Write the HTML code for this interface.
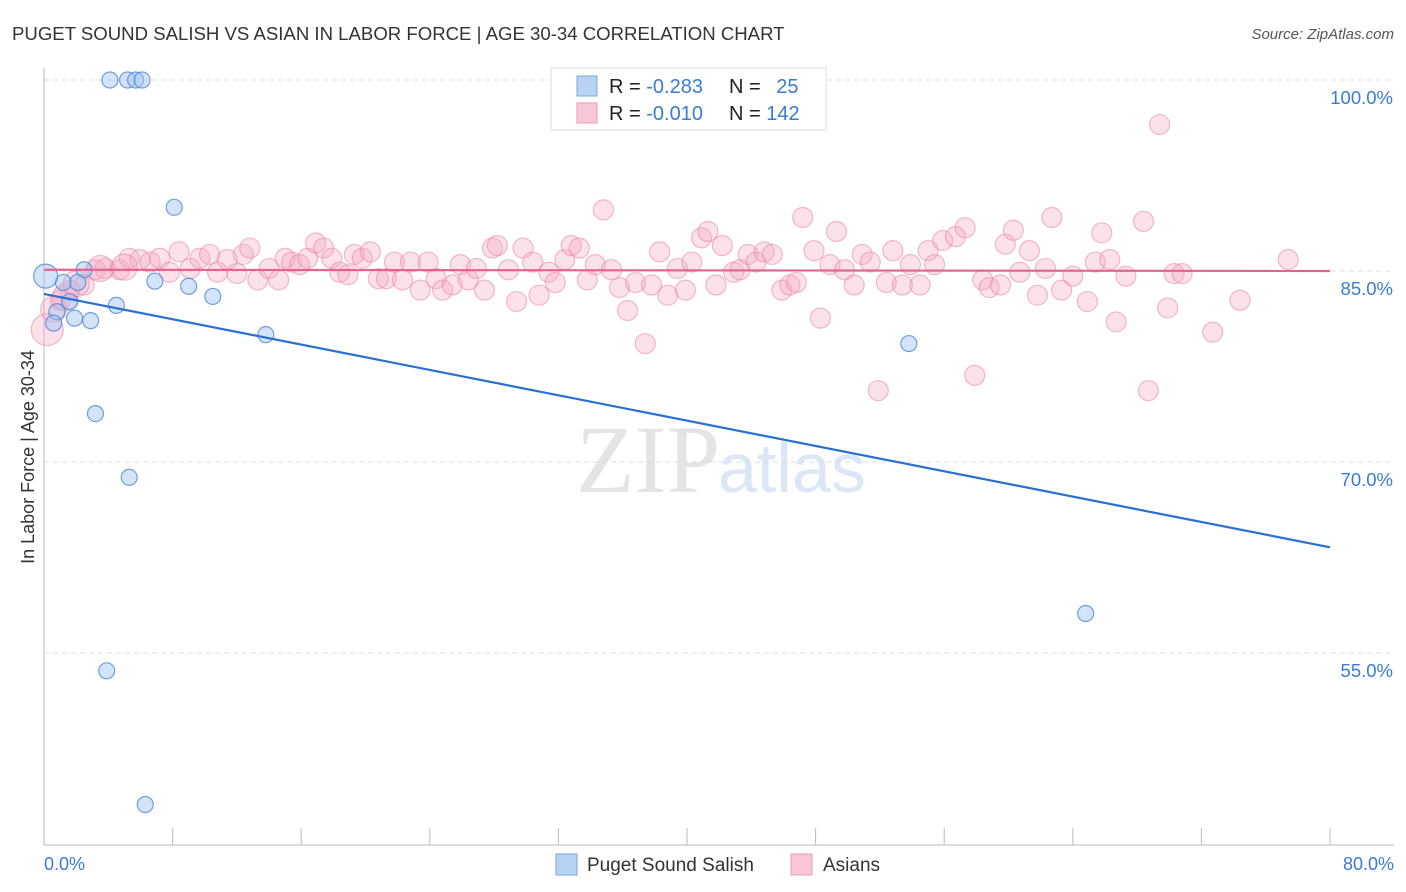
<!DOCTYPE html>
<html><head><meta charset="utf-8"><style>
body{margin:0;background:#fff;font-family:"Liberation Sans",sans-serif;}
svg{display:block}
</style></head><body>
<svg id="chart" width="1406" height="892" xmlns="http://www.w3.org/2000/svg">
<text x="12" y="40" font-size="18.6" fill="#333">PUGET SOUND SALISH VS ASIAN IN LABOR FORCE | AGE 30-34 CORRELATION CHART</text>
<text x="1394" y="39" font-size="15" fill="#555" font-style="italic" text-anchor="end">Source: ZipAtlas.com</text>
<text x="720" y="492" font-size="96" fill="#e4e4e4" text-anchor="end" font-family="Liberation Serif,serif">ZIP</text>
<text x="718" y="492" font-size="70" fill="#dbe6f6">atlas</text>
<g id="grid"></g>
<g id="axes"></g>
<g id="pts"></g>
<g id="lines"></g>
<text transform="translate(34,457) rotate(-90)" font-size="18" fill="#333" text-anchor="middle">In Labor Force | Age 30-34</text>
<text x="44" y="870" font-size="18" fill="#3a7bd5">0.0%</text>
<text x="1394" y="870" font-size="18" fill="#3a7bd5" text-anchor="end">80.0%</text>
<g>
<rect x="551" y="68" width="275" height="62" fill="#fff" stroke="#ddd"/>
<rect x="577" y="76" width="20" height="20" fill="#b8d2f4" stroke="#7aa8e6"/>
<rect x="577" y="103" width="20" height="20" fill="#f8c6d6" stroke="#f09ab8"/>
<text x="609" y="93" font-size="20" fill="#222">R = <tspan fill="#3a7bd5">-0.283</tspan></text>
<text x="729" y="93" font-size="20" fill="#222">N = <tspan fill="#3a7bd5" dx="10">25</tspan></text>
<text x="609" y="120" font-size="20" fill="#222">R = <tspan fill="#3a7bd5">-0.010</tspan></text>
<text x="729" y="120" font-size="20" fill="#222">N = <tspan fill="#3a7bd5">142</tspan></text>
</g>
<g><rect x="556" y="854" width="21" height="21" fill="#b8d2f4" stroke="#7aa8e6"/><text x="587" y="871" font-size="19" fill="#333">Puget Sound Salish</text></g>
<g><rect x="791" y="854" width="21" height="21" fill="#f8c6d6" stroke="#f09ab8"/><text x="823" y="871" font-size="19" fill="#333">Asians</text></g>
</svg>
<script>
const yTicks=[100,85,70,55];
const yTickLabels=["100.0%","85.0%","70.0%","55.0%"];
const xTicks=[0,8,16,24,32,40,48,56,64,72,80];
const blueX=[4.1,5.2,5.7,6.1,8.1,2.5,1.2,2.1,6.9,9.0,10.5,4.5,1.6,0.8,1.9,2.9,0.6,13.8,53.8,3.2,5.3,64.8,3.9,6.3,0.1];
const blueY=[100,100,100,100,90.0,85.1,84.1,84.1,84.2,83.8,83.0,82.3,82.6,81.8,81.3,81.1,80.9,80.0,79.3,73.8,68.8,58.1,53.6,43.1,84.6];
const pinkX=[0.2,1.0,1.6,2.5,3.2,3.8,4.7,5.3,5.97,6.6,7.2,7.8,8.4,9.1,9.7,10.3,10.8,11.4,12.0,12.4,12.8,13.3,14.0,14.6,15.0,15.4,15.9,16.4,16.9,17.4,17.9,18.4,18.9,19.3,19.8,20.3,20.8,21.3,21.8,22.3,22.8,23.4,23.9,24.4,24.8,25.4,25.9,26.4,26.9,27.4,27.9,28.2,28.9,29.4,29.8,30.4,30.8,31.4,31.8,32.4,32.8,33.3,33.8,34.3,34.8,35.3,35.8,36.3,36.8,37.4,37.8,38.3,38.8,39.4,39.9,40.3,40.9,41.3,41.8,42.2,42.9,43.3,43.8,44.3,44.8,45.3,45.9,46.4,46.8,47.2,47.9,48.3,48.9,49.3,49.8,50.4,50.9,51.4,51.9,52.4,52.8,53.4,53.9,54.5,55.0,55.4,55.9,56.7,57.3,57.9,58.4,58.8,59.5,59.8,60.3,60.7,61.3,61.8,62.3,62.7,63.3,64.0,64.9,65.4,65.8,66.3,66.7,67.3,68.4,68.7,69.4,69.9,70.3,70.8,72.7,74.4,77.4,0.6,1.3,2.0,3.5,5.0];
const pinkY=[80.4,82.7,83.5,83.9,85.1,85.2,85.1,86.0,85.9,85.7,86.0,84.9,86.5,85.2,86.0,86.3,84.9,85.9,84.8,86.3,86.8,84.3,85.2,84.3,86.0,85.7,85.5,86.0,87.2,86.8,86.0,84.9,84.7,86.3,86.0,86.5,84.4,84.4,85.7,84.3,85.7,83.5,85.7,84.4,83.5,83.9,85.5,84.3,85.2,83.5,86.8,87.0,85.1,82.6,86.8,85.7,83.1,84.9,84.1,85.9,87.0,86.8,84.3,85.5,89.8,85.1,83.7,81.9,84.1,79.3,83.9,86.5,83.1,85.2,83.5,85.7,87.6,88.1,83.9,87.0,84.9,85.1,86.3,85.7,86.5,86.3,83.5,83.9,84.1,89.2,86.6,81.3,85.5,88.1,85.1,83.9,86.3,85.7,75.6,84.1,86.6,83.9,85.5,83.9,86.6,85.5,87.4,87.7,88.4,76.8,84.3,83.7,83.9,87.1,88.2,84.9,86.6,83.1,85.2,89.2,83.5,84.6,82.6,85.7,88.0,85.9,81.0,84.6,88.9,75.6,96.5,82.1,84.8,84.8,80.2,82.7,85.9,82.0,82.9,84.0,85.2,85.3];
const blueTrend=[83.2,63.3];
const pinkTrend=[85.1,85.0];
const X=v=>44+v*16.075, Y=v=>80+(100-v)*12.733;
const NS="http://www.w3.org/2000/svg";
function mk(p,t,a){const e=document.createElementNS(NS,t);for(const k in a)e.setAttribute(k,a[k]);document.getElementById(p).appendChild(e);return e;}
yTicks.forEach((t,i)=>{
 const l=mk('grid','line',{x1:44,x2:1394,y1:Y(t),y2:Y(t),stroke:'#ddd','stroke-dasharray':'5,4'});
 
 
 const tx=mk('grid','text',{x:1393,y:Y(t)+24,'font-size':18.5,fill:'#3a7bd5','text-anchor':'end'});
 tx.textContent=yTickLabels[i];
 
 
});
const ax=mk('axes','line',{x1:44,x2:44,y1:68,y2:845,stroke:'#bbb'});


const bx=mk('axes','line',{x1:44,x2:1394,y1:845,y2:845,stroke:'#bbb'});


xTicks.forEach(t=>{const l=mk('axes','line',{x1:X(t),x2:X(t),y1:828,y2:845,stroke:'#bbb'});
 
 });
pinkX.forEach((x,i)=>{const big=i===0||i>=pinkX.length-5;
 const c=mk('pts','circle',{cx:X(x),cy:Y(pinkY[i]),r:big?(i===0?16:13):10,fill:'rgba(244,170,195,0.35)',stroke:'rgba(236,130,168,0.55)','stroke-width':1.2});
 
 });
blueX.forEach((x,i)=>{const c=mk('pts','circle',{cx:X(x),cy:Y(blueY[i]),r:i===24?12:8,fill:'rgba(160,195,240,0.45)',stroke:'rgba(70,130,220,0.75)','stroke-width':1.2});
 
 });
const bl=mk('lines','line',{x1:X(0),x2:X(80),y1:Y(blueTrend[0]),y2:Y(blueTrend[1]),stroke:'#2a6fd6','stroke-width':2.2});


const pl=mk('lines','line',{x1:X(0),x2:X(80),y1:Y(pinkTrend[0]),y2:Y(pinkTrend[1]),stroke:'#e8608e','stroke-width':2.2});


</script>
</body></html>
